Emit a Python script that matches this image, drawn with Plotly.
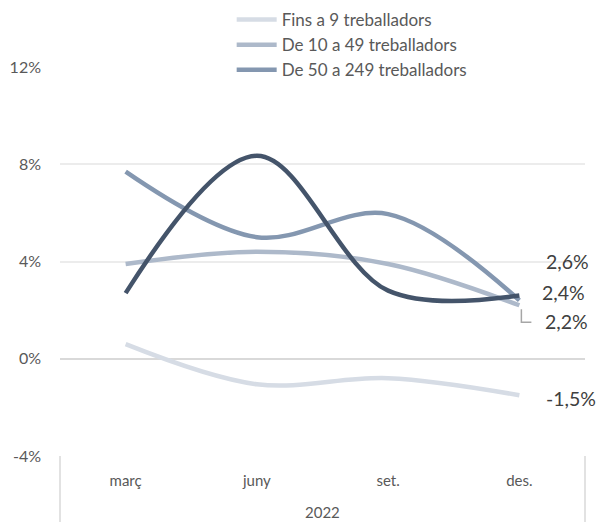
import plotly.graph_objects as go

# ── Data
MONTHS = ['març', 'juny', 'set.', 'des.']
YEAR = '2022'

fins_9 = [0.6, -1.05, -0.8, -1.5]
de_10_49 = [3.9, 4.4, 3.9, 2.2]
de_50_249 = [7.7, 5.0, 5.95, 2.4]
mes_250 = [2.7, 8.35, 2.8, 2.6]

SERIES = [
    ('Fins a 9 treballadors', fins_9, '#d6dce5', True),
    ('De 10 a 49 treballadors', de_10_49, '#adb9ca', True),
    ('De 50 a 249 treballadors', de_50_249, '#8497b0', True),
    ('250 treballadors o més', mes_250, '#44546a', False),
]

# label offsets (px) for the end-of-line value labels
LABEL_SHIFT = {
    'Fins a 9 treballadors': (25, -3),
    'De 10 a 49 treballadors': (24, -16),
    'De 50 a 249 treballadors': (21, 8),
    '250 treballadors o més': (25, 34),
}

FONT = 'Lato'
TXT = '#595959'

fig = go.Figure()
for i, (name, vals, color, show) in enumerate(SERIES):
    fig.add_trace(go.Scatter(
        x=MONTHS, y=vals, name=name, mode='lines',
        line=dict(color=color, width=4.5, shape='spline', smoothing=1.0),
        showlegend=show,
    ))
    dx, dy = LABEL_SHIFT[name]
    fig.add_annotation(
        x=MONTHS[-1], y=vals[-1], text=f'{vals[-1]:.1f}%'.replace('.', ','),
        showarrow=False, xanchor='left', yanchor='middle',
        xshift=dx, yshift=dy, font=dict(family=FONT, size=19.5, color='#404040'),
    )

# leader line for the 2,2% label
fig.add_shape(
    type='path', xref='x', yref='y', xsizemode='pixel', ysizemode='pixel',
    xanchor=3, yanchor=de_10_49[-1], path='M2,-4 V-17 H12',
    line=dict(color='#a6a6a6', width=1.5),
)

# category-group dividers and year label below the plot
for xp in (0, 1):
    fig.add_shape(type='line', xref='paper', yref='paper', x0=xp, x1=xp,
                  y0=0, y1=-0.17, line=dict(color='#d9d9d9', width=1.5))
fig.add_annotation(x=0.5, y=-0.143, xref='paper', yref='paper', text=YEAR,
                   showarrow=False, yanchor='middle',
                   font=dict(family=FONT, size=15, color=TXT))

fig.update_layout(
    width=601, height=522,
    margin=dict(l=60, r=16, t=67, b=66, autoexpand=False),
    plot_bgcolor='white', paper_bgcolor='white',
    font=dict(family=FONT, size=15, color=TXT),
    legend=dict(
        x=0.327, y=1.167, xanchor='left', yanchor='top',
        bgcolor='white', font=dict(family=FONT, size=17, color=TXT),
        itemwidth=40,
    ),
    xaxis=dict(
        type='category', range=[-0.5, 3.5], showgrid=False,
        showline=False, ticks='', tickfont=dict(size=15, color=TXT),
        ticklabelstandoff=14,
    ),
    yaxis=dict(
        range=[-4, 12], tickvals=[-4, 0, 4, 8, 12],
        ticktext=['-4%', '0%', '4%', '8%', '12%'],
        showgrid=True, gridcolor='#ececec', gridwidth=1.5,
        zeroline=True, zerolinecolor='#d9d9d9', zerolinewidth=1.5,
        showline=False, ticks='', ticklabelstandoff=18,
        tickfont=dict(size=16, color=TXT),
    ),
)

fig.write_html('out.html', config={'displayModeBar': False},
               post_script="document.body.style.margin='0';")
